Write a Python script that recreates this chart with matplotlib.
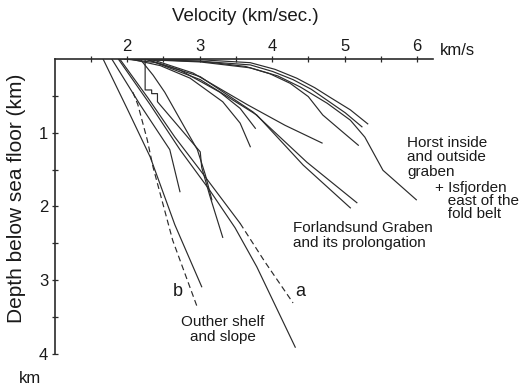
import matplotlib.pyplot as plt
from matplotlib.ticker import FixedLocator

plt.rcParams['font.family'] = ['Liberation Sans', 'DejaVu Sans']

# velocity (km/s) / depth below sea floor (km) pairs
# -- outer shelf and slope
s1_v = [1.67, 2.01, 2.32, 2.66, 3.03]
s1_d = [0.00, 0.69, 1.33, 2.25, 3.09]
s2_v = [1.79, 2.18, 2.59, 2.73]
s2_d = [0.00, 0.62, 1.23, 1.80]
long_v = [1.88, 2.32, 2.73, 3.14, 3.49, 3.79, 4.32]
long_d = [0.00, 0.62, 1.23, 1.78, 2.29, 2.82, 3.91]
step_v = [2.25, 2.25, 2.34, 2.34, 2.42, 2.42, 3.01, 3.03, 3.14, 3.32]
step_d = [0.00, 0.42, 0.42, 0.47, 0.47, 0.58, 1.26, 1.47, 1.85, 2.42]
bend_v = [2.18, 2.36, 2.52, 2.83, 2.97, 3.08, 3.17]
bend_d = [0.00, 0.22, 0.45, 0.99, 1.23, 1.57, 1.91]
a_top_v = [1.90, 2.29, 2.66, 3.01, 3.56]
a_top_d = [0.00, 0.53, 1.06, 1.51, 2.23]
a_v = [3.56, 3.90, 4.29]
a_d = [2.23, 2.75, 3.31]
b_v = [2.08, 2.15, 2.28, 2.36, 2.63, 2.97]
b_d = [0.45, 0.62, 1.10, 1.47, 2.46, 3.37]

# -- Forlandsund Graben and its prolongation
f1_v = [1.97, 2.41, 2.73, 3.28, 3.56, 3.77]
f1_d = [0.00, 0.05, 0.15, 0.45, 0.67, 0.94]
f2_v = [2.04, 2.46, 2.87, 3.32, 3.56, 3.70]
f2_d = [0.00, 0.09, 0.26, 0.58, 0.87, 1.19]
f3_v = [2.32, 2.91, 3.66, 4.18, 4.69]
f3_d = [0.00, 0.19, 0.62, 0.90, 1.14]
f4_v = [2.25, 3.01, 3.74, 4.48, 5.17]
f4_d = [0.00, 0.24, 0.72, 1.40, 1.95]
f5_v = [2.29, 3.01, 3.79, 4.43, 5.08]
f5_d = [0.01, 0.28, 0.76, 1.44, 2.02]

# -- horst inside and outside graben + Isfjorden
h1_v = [1.90, 3.01, 3.70, 4.04, 4.34, 4.59, 4.80, 5.08, 5.32]
h1_d = [0.00, 0.01, 0.05, 0.14, 0.26, 0.39, 0.52, 0.69, 0.88]
h2_v = [1.97, 3.01, 3.70, 4.01, 4.29, 4.54, 4.76, 5.01, 5.24]
h2_d = [0.00, 0.03, 0.08, 0.17, 0.28, 0.41, 0.56, 0.73, 0.92]
h3_v = [2.04, 3.01, 3.63, 3.97, 4.25, 4.50, 4.70, 4.95, 5.19]
h3_d = [0.00, 0.03, 0.10, 0.20, 0.33, 0.51, 0.76, 0.97, 1.17]
h4_v = [2.04, 3.01, 3.70, 4.08, 4.39, 4.76, 5.08, 5.28, 5.53, 5.99]
h4_d = [0.00, 0.04, 0.12, 0.23, 0.38, 0.60, 0.83, 1.06, 1.51, 1.91]

x_ticks = [2, 3, 4, 5, 6]
y_ticks = [1, 2, 3, 4]

solid_curves = [(s1_v, s1_d), (s2_v, s2_d), (long_v, long_d), (step_v, step_d),
                (bend_v, bend_d), (a_top_v, a_top_d),
                (f1_v, f1_d), (f2_v, f2_d), (f3_v, f3_d), (f4_v, f4_d), (f5_v, f5_d),
                (h1_v, h1_d), (h2_v, h2_d), (h3_v, h3_d), (h4_v, h4_d)]
dashed_curves = [(a_v, a_d), (b_v, b_d)]

ink = '#2b2b2b'

fig = plt.figure(figsize=(5.21, 3.86), dpi=100)
ax = fig.add_axes([54.5 / 521, 32.2 / 386, 378.5 / 521, 294.8 / 386])

for v, d in solid_curves:
    ax.plot(v, d, color=ink, lw=0.85, solid_joinstyle='round')
for v, d in dashed_curves:
    ax.plot(v, d, color=ink, lw=0.85, dashes=(5, 3))

ax.set_xlim(1, 6.22)
ax.set_ylim(4, 0)

ax.spines['bottom'].set_visible(False)
ax.spines['right'].set_visible(False)
for side in ['top', 'left']:
    ax.spines[side].set_linewidth(1.2)
    ax.spines[side].set_color(ink)

ax.xaxis.tick_top()
ax.set_xticks(x_ticks)
ax.xaxis.set_minor_locator(FixedLocator([t - 0.5 for t in x_ticks]))
ax.set_yticks(y_ticks)
ax.yaxis.set_minor_locator(FixedLocator([t - 0.5 for t in y_ticks]))
ax.tick_params(which='both', direction='inout', length=5, width=0.9, color=ink)
ax.tick_params(axis='x', labelsize=12, pad=1, labelcolor='#1a1a1a')
ax.tick_params(axis='y', labelsize=12, pad=2, labelcolor='#1a1a1a')

ax.text(6.32, -0.02, 'km/s', fontsize=12, ha='left', va='bottom', color='#1a1a1a')
ax.text(0.66, 4.33, 'km', fontsize=12, ha='center', va='center', color='#1a1a1a')
ax.text(3.63, -0.57, 'Velocity (km/sec.)', fontsize=13.5, ha='center', va='center', color='#1a1a1a')
fig.text(17 / 521, 1 - 198 / 386, 'Depth below sea floor (km)', rotation=90,
         fontsize=15, ha='center', va='center', color='#1a1a1a')

note = dict(fontsize=11, color='#1a1a1a', linespacing=1.05)
ax.text(5.86, 1.04, 'Horst inside\nand outside\ngraben', ha='left', va='top', **note)
ax.text(6.25, 1.66, '+ Isfjorden\n   east of the\n   fold belt', ha='left', va='top',
        fontsize=11, color='#1a1a1a', linespacing=0.9)
ax.text(4.29, 2.20, 'Forlandsund Graben\nand its prolongation', ha='left', va='top', **note)
ax.text(3.32, 3.48, 'Outher shelf\nand slope', ha='center', va='top', multialignment='center', **note)
ax.text(4.39, 3.16, 'a', fontsize=13, ha='center', va='center', color='#1a1a1a')
ax.text(2.70, 3.16, 'b', fontsize=13, ha='center', va='center', color='#1a1a1a')

fig.savefig('out.png', dpi=100)
